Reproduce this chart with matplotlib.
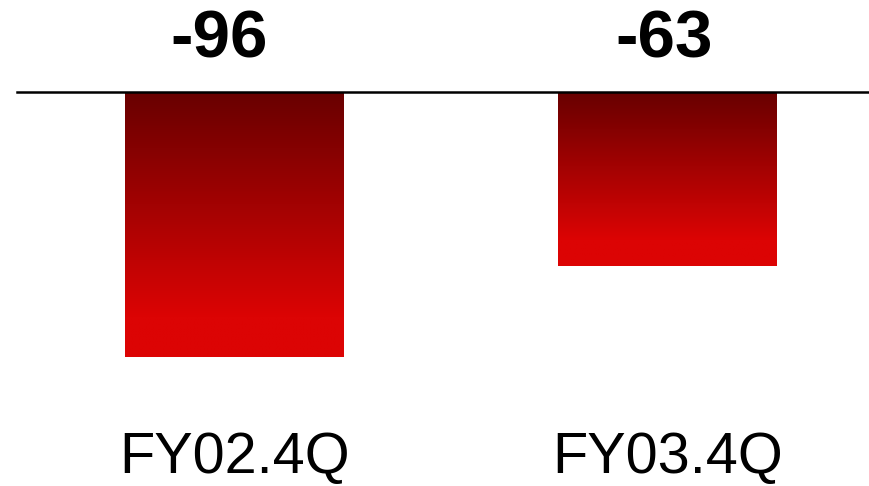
import numpy as np
import matplotlib.pyplot as plt
from matplotlib.colors import LinearSegmentedColormap

categories = ["FY02.4Q", "FY03.4Q"]
values = [-96, -63]
labels = ["-96", "-63"]
label_shift = [-0.036, -0.007]

plt.rcParams['font.family'] = ['Liberation Sans', 'DejaVu Sans']

fig = plt.figure(figsize=(8.7, 4.86), dpi=100)
ax = fig.add_axes([0, 0, 1, 1])

x = np.arange(len(categories))
bars = ax.bar(x, values, width=0.505, color='none', edgecolor='none')

# vertical gradient: dark red at the top, bright red towards the bottom
cmap = LinearSegmentedColormap.from_list(
    "redgrad", [(0.0, "#680000"), (0.85, "#dc0404"), (1.0, "#dd0404")])
grad = np.linspace(0, 1, 256).reshape(-1, 1)
for b in bars:
    x0, y0 = b.get_x(), b.get_y()
    w, h = b.get_width(), b.get_height()
    im = ax.imshow(grad, cmap=cmap, aspect='auto', interpolation='bilinear',
                   extent=[x0, x0 + w, y0 + h, y0], origin='upper', zorder=2)
    im.set_clip_path(b)

ax.axhline(0, xmin=0.02, xmax=1.0, color='black', lw=1.8, zorder=3)

for xi, lab, dx in zip(x, labels, label_shift):
    ax.text(xi + dx, 18.8, lab, ha='center', va='center',
            fontsize=48.5, fontweight='bold', color='black')

for xi, cat in zip(x, categories):
    ax.text(xi, -132.6, cat, ha='center', va='center', fontsize=41.5, color='black')

ax.set_xlim(-0.5416, 1.4677)
ax.set_ylim(-142.75, 33.3)
ax.axis('off')

fig.savefig("out.png", dpi=100)
